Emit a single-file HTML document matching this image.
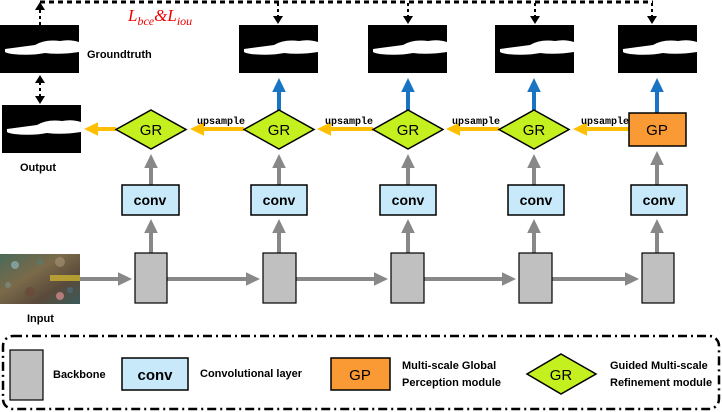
<!DOCTYPE html>
<html><head><meta charset="utf-8"><style>
html,body{margin:0;padding:0;background:#fff;}
svg{display:block;font-family:"Liberation Sans","DejaVu Sans",sans-serif;}
.b{font-weight:bold;}
</style></head><body>
<svg width="722" height="412" viewBox="0 0 722 412" xmlns="http://www.w3.org/2000/svg">
<defs>
<marker id="ag" markerWidth="4" markerHeight="4" refX="2" refY="2" orient="auto" markerUnits="strokeWidth"><path d="M0,0.3 L3.5,2 L0,3.7z" fill="#888"/></marker>
<marker id="ab" markerWidth="4" markerHeight="4" refX="2" refY="2" orient="auto" markerUnits="strokeWidth"><path d="M0,0.3 L3.5,2 L0,3.7z" fill="#1a74c4"/></marker>
<marker id="ao" markerWidth="4" markerHeight="4" refX="2" refY="2" orient="auto" markerUnits="strokeWidth"><path d="M0,0.3 L3.5,2 L0,3.7z" fill="#ffbf00"/></marker>
<g id="mask"><rect width="79" height="48" fill="#000"/><path d="M5,24 Q20,22 35,20 Q45,14 60,16 Q70,14 79,17 L79,27 Q60,30 45,28 Q30,31 12,29 Q6,28 5,27z" fill="#fff"/></g>
<linearGradient id="inp" x1="0" y1="0" x2="1" y2="1"><stop offset="0" stop-color="#4a6a5a"/><stop offset="0.4" stop-color="#7a6a4a"/><stop offset="0.7" stop-color="#5a4a3a"/><stop offset="1" stop-color="#3a5a5a"/></linearGradient>
</defs>
<!-- dashed loss lines -->
<path d="M40,2 H653" stroke="#000" stroke-width="3" stroke-dasharray="5,4" fill="none"/>
<g stroke="#000" stroke-width="2" stroke-dasharray="3,3" fill="none">
<path d="M40,25 V9"/><path d="M278,3 V17"/><path d="M408,3 V17"/><path d="M535,3 V17"/><path d="M652,3 V17"/><path d="M40,82 V96"/>
</g>
<g fill="#000">
<path d="M35,10 L40,2 L45,10z"/>
<path d="M273,16 L278,24 L283,16z"/><path d="M403,16 L408,24 L413,16z"/><path d="M530,16 L535,24 L540,16z"/><path d="M647,16 L652,24 L657,16z"/>
<path d="M35,83 L40,75 L45,83z"/><path d="M35,96 L40,104 L45,96z"/>
</g>
<text x="128" y="21" fill="#e00" font-family="Liberation Serif,serif" font-style="italic" font-size="17">L<tspan font-size="12" dy="4">bce</tspan><tspan dy="-4">&amp;L</tspan><tspan font-size="12" dy="4">iou</tspan></text>
<!-- masks -->
<use href="#mask" x="0" y="25"/>
<use href="#mask" x="2" y="105"/>
<use href="#mask" x="239" y="25"/>
<use href="#mask" x="368" y="25"/>
<use href="#mask" x="495" y="25"/>
<use href="#mask" x="618" y="25"/>
<text x="87" y="58" class="b" font-size="11">Groundtruth</text>
<text x="20" y="171" class="b" font-size="11">Output</text>
<!-- blue arrows -->
<g stroke="#1a74c4" stroke-width="4" fill="none">
<path d="M279,110 V84" marker-end="url(#ab)"/>
<path d="M408,110 V84" marker-end="url(#ab)"/>
<path d="M534,110 V84" marker-end="url(#ab)"/>
<path d="M657,113 V84" marker-end="url(#ab)"/>
</g>
<!-- orange arrows -->
<g stroke="#ffbf00" stroke-width="4" fill="none">
<path d="M116,129 H90" marker-end="url(#ao)"/>
<path d="M244,129 H196" marker-end="url(#ao)"/>
<path d="M373,129 H323" marker-end="url(#ao)"/>
<path d="M499,129 H452" marker-end="url(#ao)"/>
<path d="M629,129 H579" marker-end="url(#ao)"/>
</g>
<g font-family="Liberation Mono,monospace" font-size="10" font-weight="bold">
<text x="197" y="124">upsample</text><text x="325" y="124">upsample</text><text x="452" y="124">upsample</text><text x="581" y="124">upsample</text>
</g>
<!-- GR / GP -->
<g fill="#c5f01f" stroke="#000" stroke-width="1.5">
<path d="M151,110 L186,129.5 L151,149 L116,129.5z"/>
<path d="M279,110 L314,129.5 L279,149 L244,129.5z"/>
<path d="M408,110 L443,129.5 L408,149 L373,129.5z"/>
<path d="M534,110 L569,129.5 L534,149 L499,129.5z"/>
</g>
<rect x="629" y="113" width="57" height="33" fill="#fa9a34" stroke="#000" stroke-width="1.5"/>
<g font-size="15" text-anchor="middle">
<text x="151" y="135">GR</text><text x="279" y="135">GR</text><text x="408" y="135">GR</text><text x="534" y="135">GR</text><text x="657" y="135">GP</text>
</g>
<!-- gray arrows -->
<g stroke="#888" stroke-width="4" fill="none">
<path d="M151,185 V160" marker-end="url(#ag)"/>
<path d="M279,185 V160" marker-end="url(#ag)"/>
<path d="M408,185 V160" marker-end="url(#ag)"/>
<path d="M534,185 V160" marker-end="url(#ag)"/>
<path d="M657,185 V157" marker-end="url(#ag)"/>
<path d="M151,253 V225" marker-end="url(#ag)"/>
<path d="M279,253 V225" marker-end="url(#ag)"/>
<path d="M408,253 V225" marker-end="url(#ag)"/>
<path d="M534,253 V225" marker-end="url(#ag)"/>
<path d="M657,253 V225" marker-end="url(#ag)"/>
<path d="M80,279 H126" marker-end="url(#ag)"/>
<path d="M167,279 H254" marker-end="url(#ag)"/>
<path d="M296,279 H382" marker-end="url(#ag)"/>
<path d="M424,279 H510" marker-end="url(#ag)"/>
<path d="M552,279 H633" marker-end="url(#ag)"/>
</g>
<!-- conv -->
<g fill="#c8e9fa" stroke="#000" stroke-width="1.5">
<rect x="122" y="185" width="57" height="30"/><rect x="251" y="185" width="56" height="30"/><rect x="380" y="185" width="56" height="30"/><rect x="508" y="185" width="56" height="30"/><rect x="631" y="185" width="56" height="30"/>
</g>
<g font-size="14" text-anchor="middle" class="b">
<text x="150" y="205">conv</text><text x="279" y="205">conv</text><text x="408" y="205">conv</text><text x="536" y="205">conv</text><text x="659" y="205">conv</text>
</g>
<!-- backbone -->
<g fill="#c0c0c0" stroke="#000" stroke-width="1.2">
<rect x="135" y="253" width="32" height="50"/><rect x="263" y="253" width="33" height="50"/><rect x="391" y="253" width="33" height="50"/><rect x="519" y="253" width="33" height="50"/><rect x="642" y="253" width="32" height="50"/>
</g>
<!-- input -->
<rect x="0" y="254" width="80" height="50" fill="url(#inp)"/>
<g opacity="0.8"><circle cx="15" cy="265" r="4" fill="#8aa"/><circle cx="60" cy="262" r="5" fill="#9a8a6a"/><circle cx="30" cy="292" r="5" fill="#6a4a3a"/><circle cx="60" cy="296" r="4" fill="#c88"/><rect x="50" y="275" width="30" height="6" fill="#c8b030"/><circle cx="70" cy="290" r="3" fill="#4a6a7a"/><circle cx="8" cy="285" r="3" fill="#7a8a7a"/><circle cx="40" cy="262" r="3" fill="#5a7a6a"/></g>
<text x="27" y="322" font-size="11" class="b">Input</text>
<!-- legend -->
<rect x="3" y="336" width="716" height="73" rx="10" fill="none" stroke="#000" stroke-width="2.5" stroke-dasharray="9,4,2,4"/>
<rect x="10" y="350" width="33" height="50" fill="#c0c0c0" stroke="#000" stroke-width="1.2"/>
<text x="53" y="378" font-size="11" class="b">Backbone</text>
<rect x="122" y="358" width="66" height="32" fill="#c8e9fa" stroke="#000" stroke-width="1.5"/>
<text x="155" y="380" font-size="15" text-anchor="middle" class="b">conv</text>
<text x="200" y="377" font-size="11" class="b">Convolutional layer</text>
<rect x="331" y="358" width="59" height="32" fill="#fa9a34" stroke="#000" stroke-width="1.5"/>
<text x="360" y="380" font-size="15" text-anchor="middle">GP</text>
<text x="402" y="369" font-size="11" class="b">Multi-scale Global</text>
<text x="402" y="386" font-size="11" class="b">Perception module</text>
<path d="M561,354 L596,374 L561,394 L527,374z" fill="#c5f01f" stroke="#000" stroke-width="1.5"/>
<text x="561" y="380" font-size="15" text-anchor="middle">GR</text>
<text x="610" y="369" font-size="11" class="b">Guided Multi-scale</text>
<text x="610" y="386" font-size="11" class="b">Refinement module</text>
</svg>
</body></html>
